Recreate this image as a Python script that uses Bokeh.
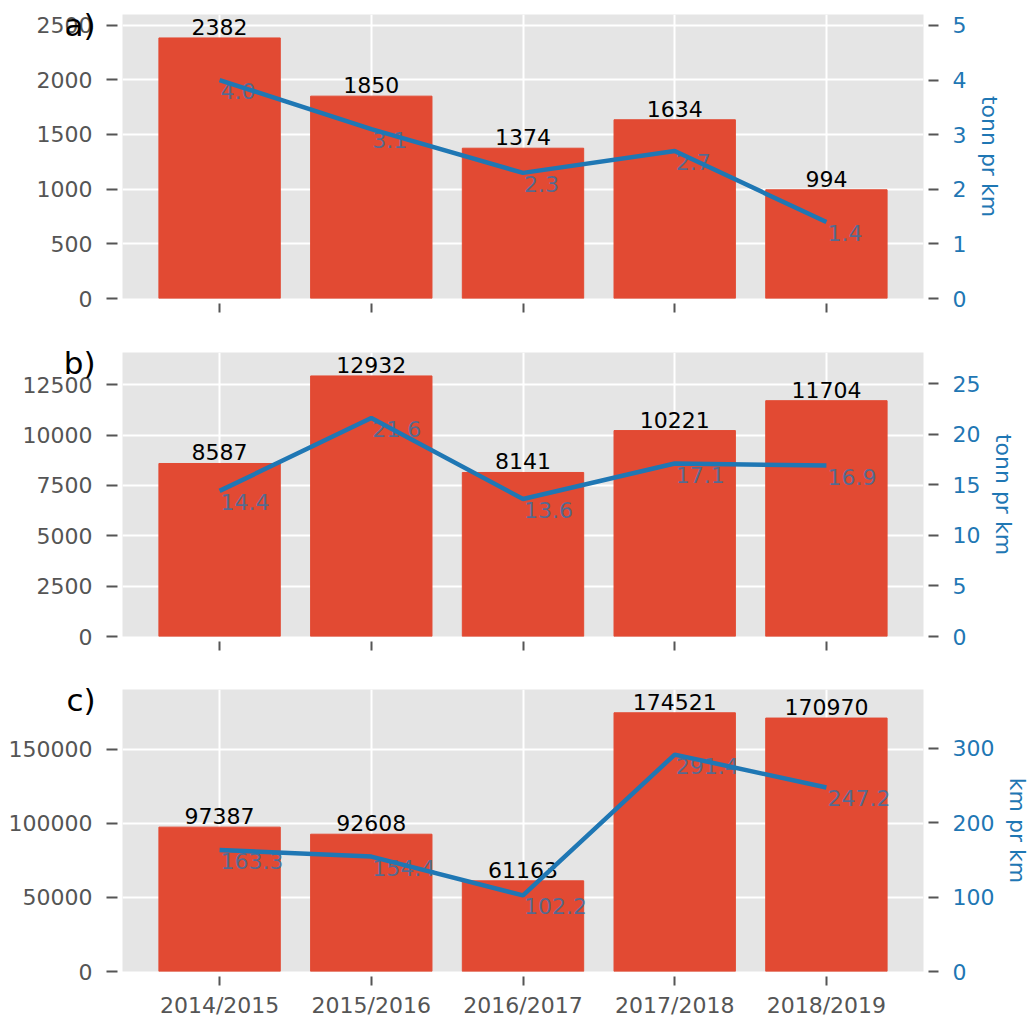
from bokeh.plotting import figure
from bokeh.models import FactorRange, Range1d, LinearAxis, SingleIntervalTicker, NumeralTickFormatter
from bokeh.layouts import column
from bokeh.embed import file_html
from bokeh.resources import INLINE
from bokeh.core.properties import value

seasons = ["2014/2015", "2015/2016", "2016/2017", "2017/2018", "2018/2019"]
a_totals = [2382, 1850, 1374, 1634, 994]
a_per_km = [4.0, 3.1, 2.3, 2.7, 1.4]
b_totals = [8587, 12932, 8141, 10221, 11704]
b_per_km = [14.4, 21.6, 13.6, 17.1, 16.9]
c_totals = [97387, 92608, 61163, 174521, 170970]
c_per_km = [163.3, 154.4, 102.2, 291.4, 247.2]

panel_letters = ["a)", "b)", "c)"]
right_labels = ["tonn pr km", "tonn pr km", "km pr km"]
left_intervals = [500, 2500, 50000]
right_intervals = [1, 5, 100]
letter_standoffs = [-62, -76, -90]

FONT = "DejaVu Sans"
FS = "22px"
BAR = "#E24A33"
BLUE = "#1f77b4"
GRAY = "#555555"
BG = "#E5E5E5"
FRAME_H = 284


def make_panel(idx, totals, per_km, top_border, bottom_border, show_labels):
    p = figure(
        x_range=FactorRange(factors=seasons, range_padding=0.056),
        y_range=Range1d(0, max(totals) * 1.09),
        width=1033,
        height=top_border + FRAME_H + bottom_border,
        output_backend="svg",
        toolbar_location=None,
        tools="",
        min_border_left=122,
        min_border_right=100,
        min_border_top=top_border,
        min_border_bottom=bottom_border,
    )
    p.background_fill_color = BG
    p.border_fill_color = "white"
    p.outline_line_color = None
    p.extra_y_ranges = {"r": Range1d(0, max(per_km) * 1.3)}

    for g in (p.xgrid, p.ygrid):
        g.grid_line_color = "white"
        g.grid_line_width = 2

    p.vbar(x=seasons, top=totals, width=0.8, color=BAR)
    p.text(x=seasons, y=totals, text=[str(v) for v in totals],
           text_align="center", text_baseline="bottom", y_offset=-3,
           text_font=value(FONT), text_font_size=FS, text_color="black")
    p.text(x=seasons, y=per_km, text=[f"{v:.1f}" for v in per_km],
           y_range_name="r", text_align="left", text_baseline="top",
           x_offset=1, y_offset=3, text_font=value(FONT), text_font_size=FS,
           text_color=BLUE, text_alpha=0.72)
    p.line(x=seasons, y=per_km, y_range_name="r", line_width=4.5, color=BLUE)

    # left axis
    ya = p.yaxis[0]
    ya.ticker = SingleIntervalTicker(interval=left_intervals[idx])
    ya.formatter = NumeralTickFormatter(format="0")
    ya.axis_line_color = None
    ya.major_tick_line_color = GRAY
    ya.major_tick_line_width = 2
    ya.major_tick_in = -5
    ya.major_tick_out = 16
    ya.minor_tick_line_color = None
    ya.major_label_standoff = 14
    ya.major_label_text_color = GRAY
    ya.major_label_text_font = FONT
    ya.major_label_text_font_size = FS

    # panel letter as a horizontal axis label (empty first line pushes it down)
    ya.axis_label = "\n" + panel_letters[idx]
    ya.axis_label_text_font = FONT
    ya.axis_label_text_font_size = "31px"
    ya.axis_label_text_color = "black"
    ya.axis_label_text_font_style = "normal"
    ya.axis_label_text_line_height = 0.6
    try:
        ya.axis_label_orientation = "horizontal"
    except Exception:
        pass
    try:
        ya.axis_label_align = "end"
    except Exception:
        pass
    ya.axis_label_standoff = letter_standoffs[idx]

    # right axis
    ra = LinearAxis(y_range_name="r", ticker=SingleIntervalTicker(interval=right_intervals[idx]))
    ra.axis_line_color = None
    ra.major_tick_line_color = GRAY
    ra.major_tick_line_width = 2
    ra.major_tick_in = -5
    ra.major_tick_out = 15
    ra.minor_tick_line_color = None
    ra.major_label_standoff = 14
    ra.major_label_text_color = BLUE
    ra.major_label_text_font = FONT
    ra.major_label_text_font_size = FS
    ra.axis_label = right_labels[idx]
    ra.axis_label_text_color = BLUE
    ra.axis_label_text_font = FONT
    ra.axis_label_text_font_size = FS
    ra.axis_label_text_font_style = "normal"
    ra.axis_label_standoff = 8
    p.add_layout(ra, "right")

    # bottom axis
    xa = p.xaxis[0]
    xa.axis_line_color = None
    xa.major_tick_line_color = GRAY
    xa.major_tick_line_width = 2
    xa.major_tick_in = -5
    xa.major_tick_out = 14
    xa.major_label_standoff = 7
    xa.major_label_text_color = GRAY
    xa.major_label_text_font = FONT
    xa.major_label_text_font_size = FS if show_labels else "0px"
    return p


pa = make_panel(0, a_totals, a_per_km, 14, 28, False)
pb = make_panel(1, b_totals, b_per_km, 26, 26, False)
pc = make_panel(2, c_totals, c_per_km, 27, 47, True)

layout = column(pa, pb, pc, spacing=0)
open("out.html", "w").write(file_html(layout, INLINE))
